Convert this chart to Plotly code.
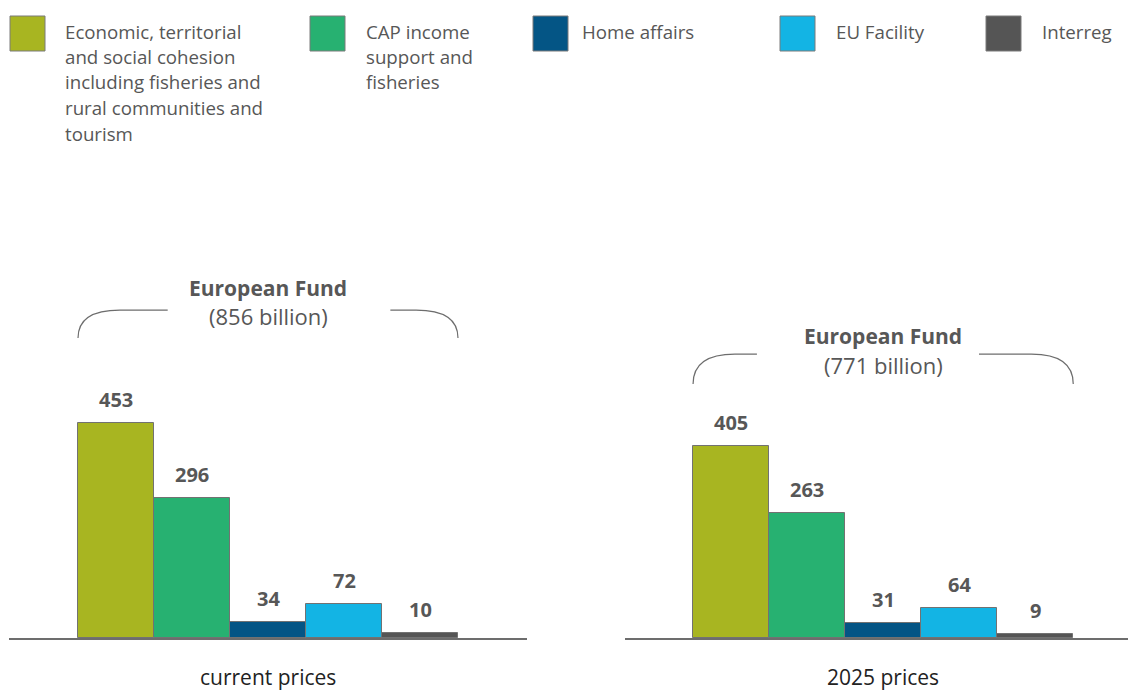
import plotly.graph_objects as go

categories = [
    "Economic, territorial<br>and social cohesion<br>including fisheries and<br>rural communities and<br>tourism",
    "CAP income<br>support and<br>fisheries",
    "Home affairs",
    "EU Facility",
    "Interreg",
]
colors = ["#a8b521", "#27b171", "#045585", "#13b4e4", "#555555"]
current_prices = [453, 296, 34, 72, 10]
prices_2025 = [405, 263, 31, 64, 9]
panel_titles = ["current prices", "2025 prices"]
fund_totals = ["(856 billion)", "(771 billion)"]

W, H = 1137, 693
FONT = "Open Sans"
TXT = "#575757"

def px(x):
    return x / W

def py(y):
    return 1 - y / H

fig = go.Figure()
idx = list(range(len(categories)))

for k, vals in enumerate([current_prices, prices_2025]):
    xa = "x" if k == 0 else "x2"
    ya = "y" if k == 0 else "y2"
    fig.add_trace(go.Bar(
        x=idx, y=vals, xaxis=xa, yaxis=ya, width=1,
        marker=dict(color=colors, line=dict(color="#727272", width=1)),
        showlegend=False, hoverinfo="skip",
    ))
    for i, v in enumerate(vals):
        fig.add_annotation(x=i, y=v, xref=xa, yref=ya, text=f"<b>{v}</b>",
                           showarrow=False, yanchor="bottom", yshift=8,
                           font=dict(family=FONT, size=20, color=TXT))

# y scale: baseline at 638 px, 0.4746 px per unit
ytop = 638 / 0.4746
ydom = [py(638), 1]
fig.update_layout(
    xaxis=dict(domain=[px(9), px(527)], range=[-1.408, 5.408], showgrid=False,
               zeroline=False, showticklabels=False, ticks="", showline=True,
               linecolor="#6d6d6d", linewidth=1.5, fixedrange=True),
    yaxis=dict(domain=ydom, range=[0, ytop], visible=False, fixedrange=True),
    xaxis2=dict(domain=[px(625), px(1128)], range=[-1.395, 5.22], showgrid=False,
                zeroline=False, showticklabels=False, ticks="", showline=True,
                linecolor="#6d6d6d", linewidth=1.5, anchor="y2", fixedrange=True),
    yaxis2=dict(domain=ydom, range=[0, ytop], visible=False, anchor="x2", fixedrange=True),
    width=W, height=H, margin=dict(l=0, r=0, t=0, b=0),
    paper_bgcolor="white", plot_bgcolor="white", bargap=0, showlegend=False,
)

# brackets + fund titles
brackets = [
    dict(xa="x", ya="y", top=691, bot=632, l_end=0.68, r_start=3.61, t1=737, t2=678),
    dict(xa="x2", ya="y2", top=598, bot=535, l_end=0.34, r_start=3.26, t1=636, t2=575),
]
for k, b in enumerate(brackets):
    x0, x1 = -0.5, 4.5
    dx = 0.55
    left = f"M {x0},{b['bot']} Q {x0},{b['top']} {x0+dx},{b['top']} L {b['l_end']},{b['top']}"
    right = f"M {b['r_start']},{b['top']} L {x1-dx},{b['top']} Q {x1},{b['top']} {x1},{b['bot']}"
    for p in (left, right):
        fig.add_shape(type="path", path=p, xref=b["xa"], yref=b["ya"],
                      line=dict(color="#6d6d6d", width=1.2))
    fig.add_annotation(x=2, y=b["t1"], xref=b["xa"], yref=b["ya"], text="<b>European Fund</b>",
                       showarrow=False, font=dict(family=FONT, size=21, color=TXT))
    fig.add_annotation(x=2, y=b["t2"], xref=b["xa"], yref=b["ya"], text=fund_totals[k],
                       showarrow=False, font=dict(family=FONT, size=22, color=TXT))

# panel labels
for k, cx in enumerate([268, 883]):
    fig.add_annotation(x=px(cx), y=py(677), xref="paper", yref="paper", text=panel_titles[k],
                       showarrow=False, xanchor="center", yanchor="middle",
                       font=dict(family=FONT, size=21, color="#222222"))

# custom legend
sq_x = [10, 310, 533, 780, 986]
txt_x = [63, 364, 580, 834, 1040]
for i, cat in enumerate(categories):
    fig.add_shape(type="rect", xref="paper", yref="paper",
                  x0=px(sq_x[i]), x1=px(sq_x[i] + 35), y0=py(51), y1=py(16),
                  fillcolor=colors[i], line=dict(color="#7a7a7a", width=1))
    for j, line in enumerate(cat.split("<br>")):
        fig.add_annotation(x=px(txt_x[i]), y=py(31 + 25.5 * j), xref="paper", yref="paper",
                           text=line, showarrow=False, xanchor="left", yanchor="middle",
                           font=dict(family=FONT, size=18.7, color=TXT))

fig.write_html("out.html")
